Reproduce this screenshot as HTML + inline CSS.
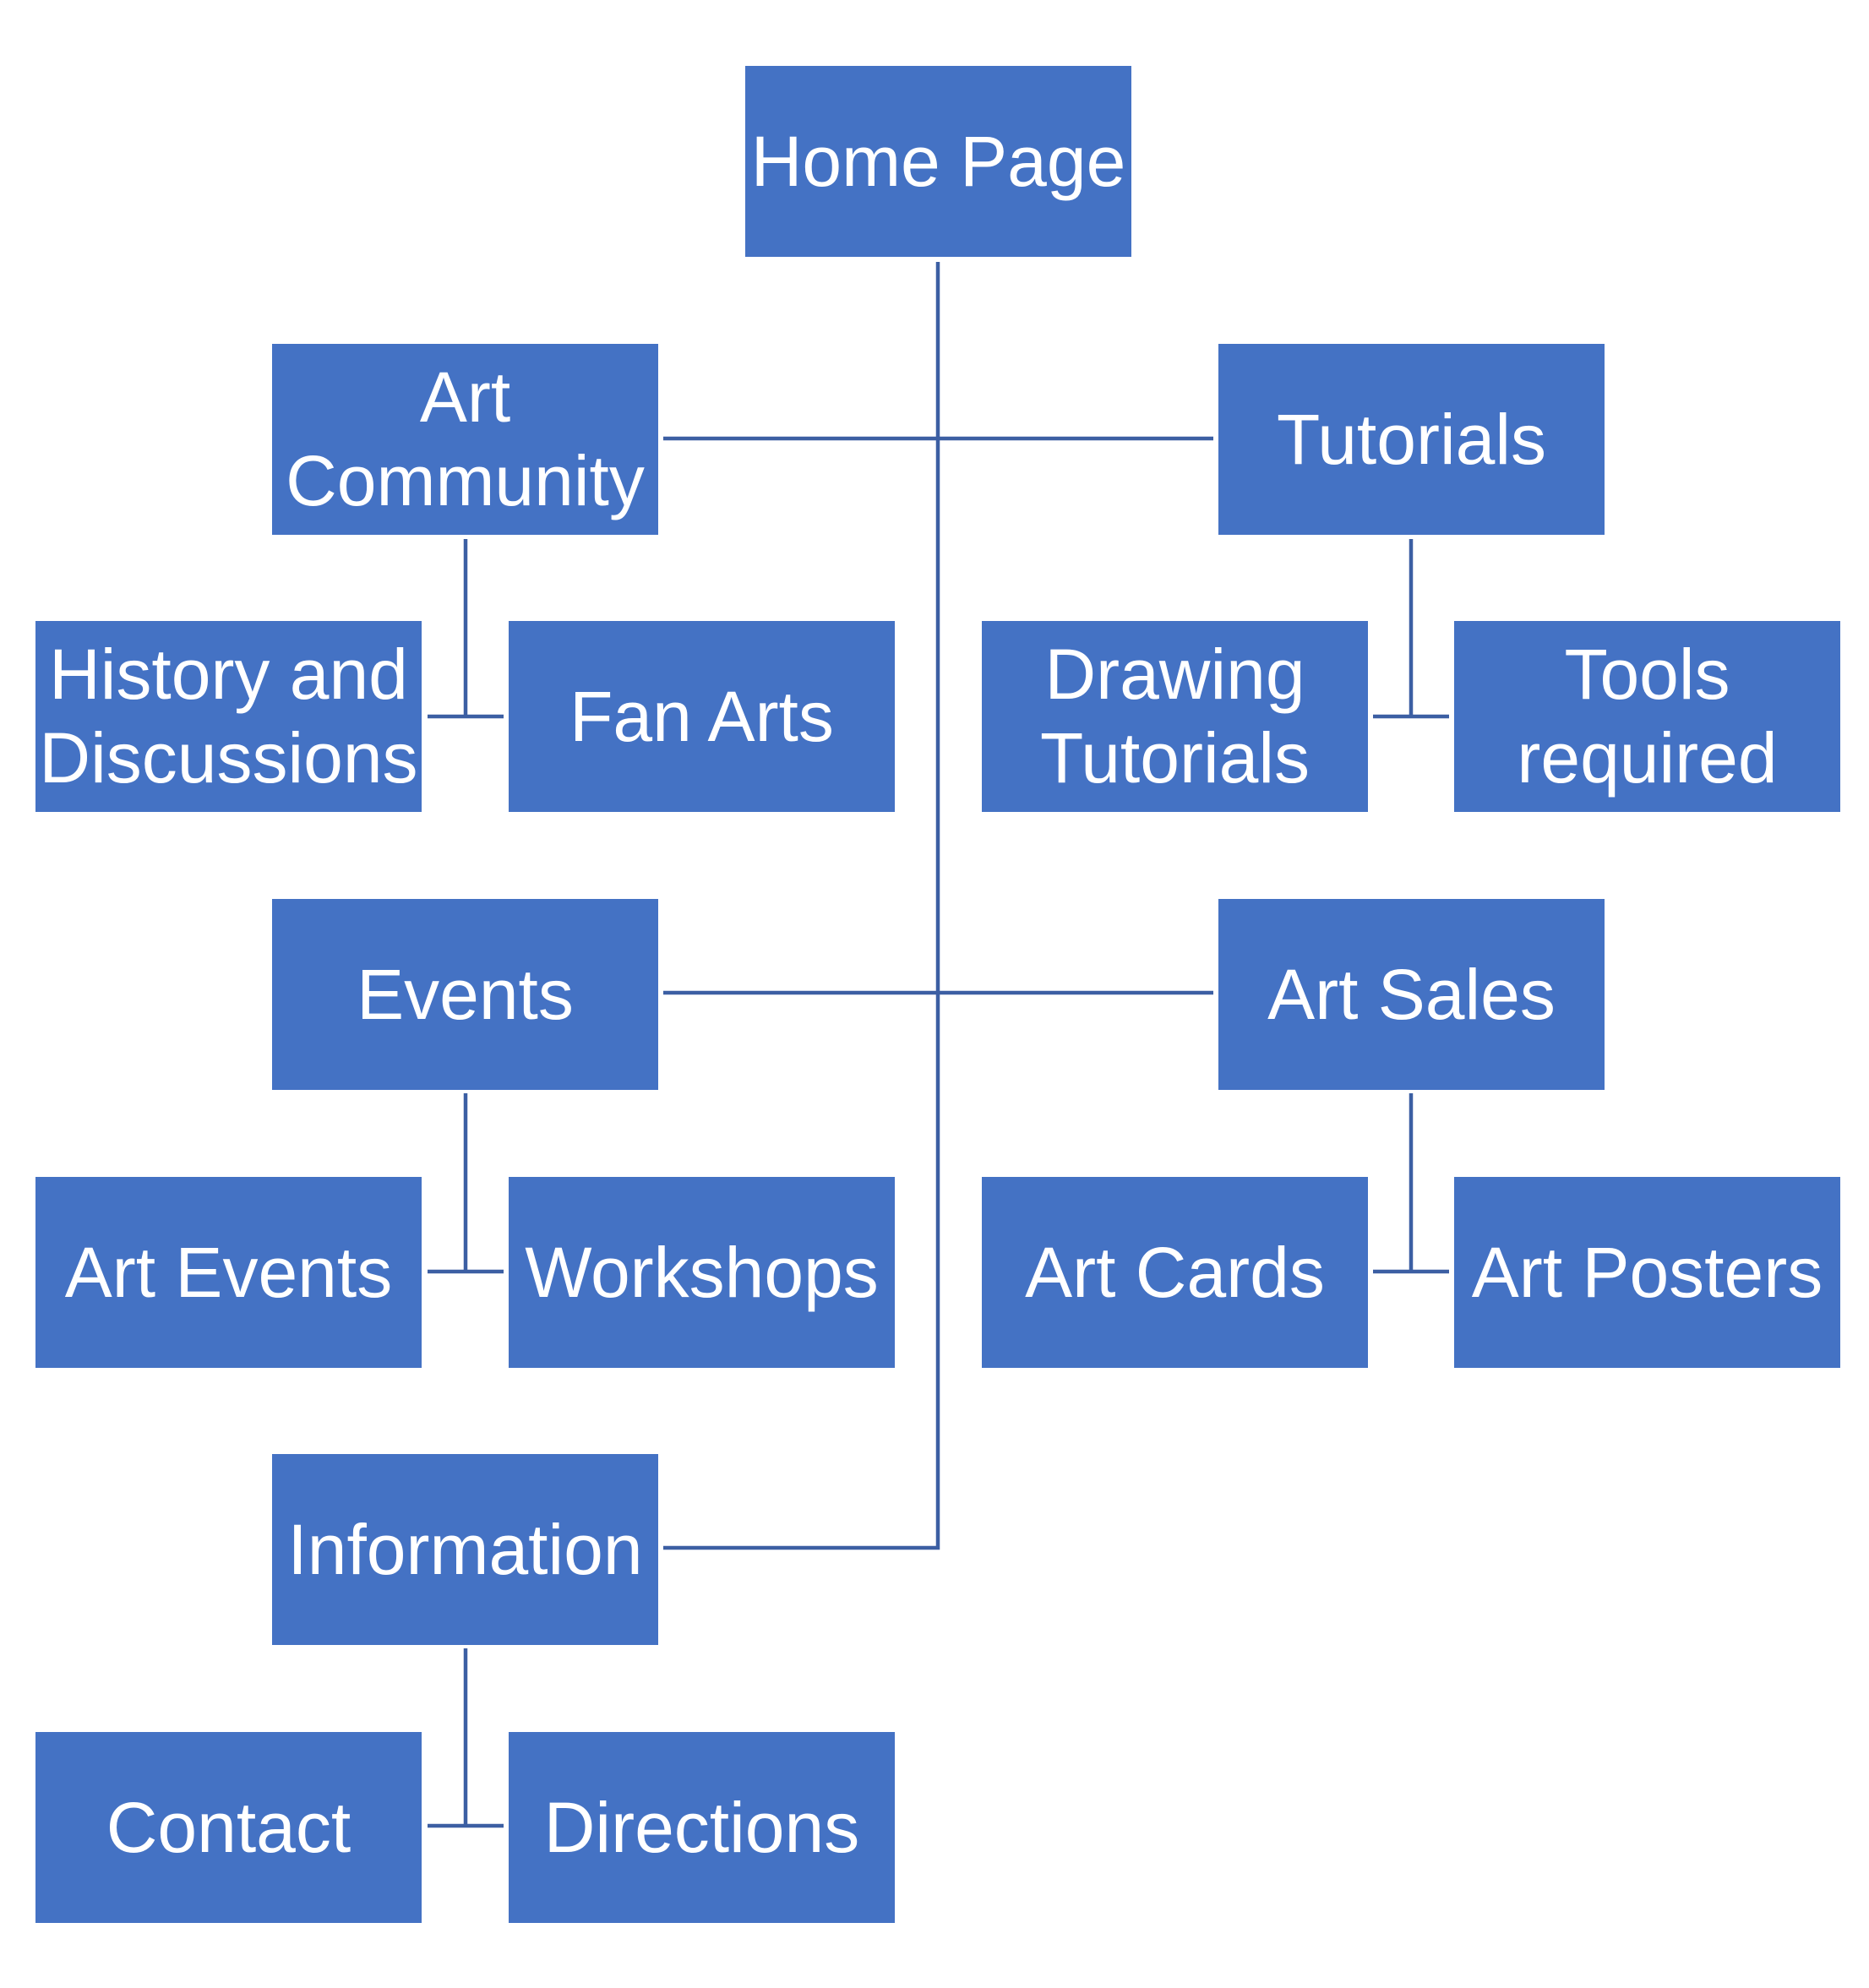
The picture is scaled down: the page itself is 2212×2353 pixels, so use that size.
<!DOCTYPE html>
<html><head><meta charset="utf-8"><style>
html,body{margin:0;padding:0;background:#fff;}
body{width:2212px;height:2353px;position:relative;overflow:hidden;font-family:"Liberation Sans",sans-serif;}
.b{position:absolute;width:457px;height:226px;background:#4472C4;color:#fff;display:flex;align-items:center;justify-content:center;text-align:center;font-size:84px;line-height:99px;white-space:nowrap;}
svg{position:absolute;left:0;top:0;}
</style></head><body>
<svg width="2212" height="2353"><g stroke="#3C5FA3" stroke-width="4.5" fill="none">
<path d="M1110 310 V1832 H785"/>
<path d="M785 519 H1436"/>
<path d="M785 1175 H1436"/>
<path d="M551 638 V848 M506 848 H596"/>
<path d="M1670 638 V848 M1625 848 H1715"/>
<path d="M551 1294 V1505 M506 1505 H596"/>
<path d="M1670 1294 V1505 M1625 1505 H1715"/>
<path d="M551 1951 V2161 M506 2161 H596"/>
</g></svg>
<div class="b" style="left:882px;top:78px">Home Page</div>
<div class="b" style="left:322px;top:407px">Art<br>Community</div>
<div class="b" style="left:1442px;top:407px">Tutorials</div>
<div class="b" style="left:42px;top:735px">History and<br>Discussions</div>
<div class="b" style="left:602px;top:735px">Fan Arts</div>
<div class="b" style="left:1162px;top:735px">Drawing<br>Tutorials</div>
<div class="b" style="left:1721px;top:735px">Tools<br>required</div>
<div class="b" style="left:322px;top:1064px">Events</div>
<div class="b" style="left:1442px;top:1064px">Art Sales</div>
<div class="b" style="left:42px;top:1393px">Art Events</div>
<div class="b" style="left:602px;top:1393px">Workshops</div>
<div class="b" style="left:1162px;top:1393px">Art Cards</div>
<div class="b" style="left:1721px;top:1393px">Art Posters</div>
<div class="b" style="left:322px;top:1721px">Information</div>
<div class="b" style="left:42px;top:2050px">Contact</div>
<div class="b" style="left:602px;top:2050px">Directions</div>
</body></html>
